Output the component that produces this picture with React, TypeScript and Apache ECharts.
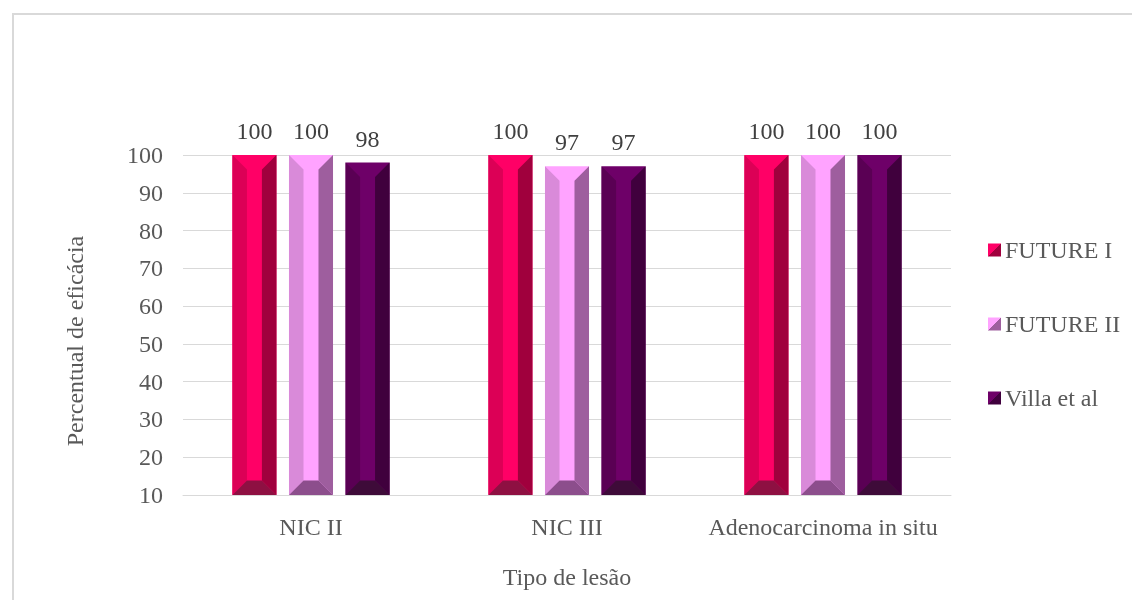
import React, { useEffect, useRef } from "react";
import * as echarts from "echarts";

const categories = ["NIC II", "NIC III", "Adenocarcinoma in situ"];
const seriesNames = ["FUTURE I", "FUTURE II", "Villa et al"];
const future1 = [100, 100, 100];
const future2 = [100, 97, 100];
const villa = [98, 97, 100];
const yTicks = { min: 10, max: 100, interval: 10 };

const palettes = [
  { face: "#FF0066", left: "#DC0056", right: "#A0003D", bottom: "#8E1042" },
  { face: "#FFA3FF", left: "#D98AD9", right: "#9E5E9E", bottom: "#8C4E8C" },
  { face: "#6E0068", left: "#5A0054", right: "#40003D", bottom: "#3E0B39" },
];

const FONT = "Liberation Serif";

export default function App() {
  const ref = useRef<HTMLDivElement>(null);
  useEffect(() => {
    if (!ref.current) return;
    const chart = echarts.init(ref.current, null, { renderer: "svg" });
    const renderItem = (params: any, api: any) => {
      const cat = api.value(0);
      const val = api.value(1);
      const band = api.size([1, 0])[0];
      const bw = band * 0.172;
      const gap = band * 0.049;
      const si = params.seriesIndex;
      const c = api.coord([cat, val]);
      const b = api.coord([cat, yTicks.min]);
      const x0 = c[0] + (si - 1) * (bw + gap) - bw / 2;
      const x1 = x0 + bw;
      const top = c[1];
      const bot = b[1];
      const d = bw * 0.33;
      const p = palettes[si];
      return {
        type: "group",
        children: [
          { type: "rect", shape: { x: x0, y: top, width: bw, height: bot - top }, style: { fill: p.face } },
          { type: "polygon", shape: { points: [[x0, top], [x0 + d, top + d], [x0 + d, bot - d], [x0, bot]] }, style: { fill: p.left } },
          { type: "polygon", shape: { points: [[x1, top], [x1 - d, top + d], [x1 - d, bot - d], [x1, bot]] }, style: { fill: p.right } },
          { type: "polygon", shape: { points: [[x0, bot], [x0 + d, bot - d], [x1 - d, bot - d], [x1, bot]] }, style: { fill: p.bottom } },
          {
            type: "text",
            x: (x0 + x1) / 2,
            y: top - 24,
            style: {
              text: String(val),
              fill: "#404040",
              fontSize: 24,
              fontFamily: FONT,
              align: "center",
              verticalAlign: "middle",
            },
          },
        ],
      };
    };
    const allData = [future1, future2, villa];
    chart.setOption({
      animation: false,
      graphic: [
        {
          type: "rect",
          shape: { x: 13, y: 14, width: 1300, height: 800 },
          style: { fill: "none", stroke: "#d9d9d9", lineWidth: 2 },
          silent: true,
        },
      ],
      grid: { left: 183, right: 181, top: 155, bottom: 105 },
      legend: {
        orient: "vertical",
        left: 983,
        top: 233,
        itemWidth: 13,
        itemHeight: 13,
        itemGap: 50,
        icon: "rect",
        textStyle: { fontSize: 24, color: "#595959", fontFamily: FONT, padding: [0, 0, 0, -1] },
        data: seriesNames,
      },
      xAxis: {
        type: "category",
        data: categories,
        axisLine: { lineStyle: { color: "#d9d9d9" } },
        axisTick: { show: false },
        axisLabel: { fontSize: 24, color: "#595959", margin: 20, fontFamily: FONT, interval: 0 },
        name: "Tipo de lesão",
        nameLocation: "middle",
        nameGap: 70,
        nameTextStyle: { fontSize: 24, color: "#595959", fontFamily: FONT },
      },
      yAxis: {
        type: "value",
        min: yTicks.min,
        max: yTicks.max,
        interval: yTicks.interval,
        axisLine: { show: false },
        axisTick: { show: false },
        splitLine: { lineStyle: { color: "#d9d9d9" } },
        axisLabel: { fontSize: 24, color: "#595959", margin: 20, fontFamily: FONT },
        name: "Percentual de eficácia",
        nameLocation: "middle",
        nameGap: 96,
        nameTextStyle: { fontSize: 24, color: "#595959", fontFamily: FONT, padding: [0, 32, 0, 0] },
      },
      series: seriesNames.map((name, i) => ({
        name,
        type: "custom",
        renderItem,
        encode: { x: 0, y: 1 },
        itemStyle: {
          color: new echarts.graphic.LinearGradient(0, 0, 1, 1, [
            { offset: 0, color: palettes[i].face },
            { offset: 0.5, color: palettes[i].face },
            { offset: 0.5, color: palettes[i].right },
            { offset: 1, color: palettes[i].right },
          ]),
        },
        data: allData[i].map((v, j) => [j, v]),
      })),
    });
    return () => chart.dispose();
  }, []);
  return (
    <div
      ref={ref}
      style={{ position: "fixed", left: 0, top: 0, width: 1132, height: 600 }}
    />
  );
}
